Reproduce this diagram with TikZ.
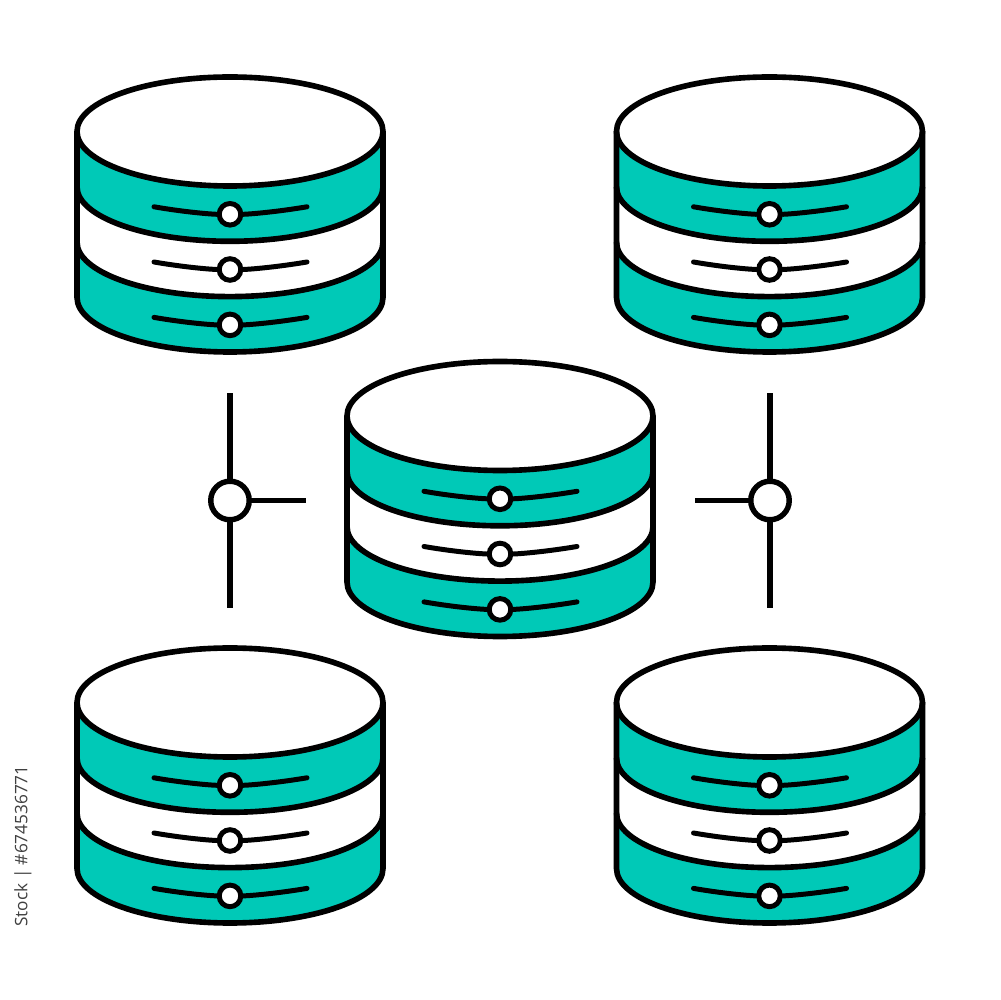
\documentclass[tikz,border=0pt]{standalone}
\usepackage{fontspec}
\setmainfont{Open Sans}
\definecolor{tealfill}{HTML}{00C9B7}
\tikzset{
  outline/.style={draw=black,line width=1.6pt,line join=round},
  slideline/.style={draw=black,line width=1.42pt,line cap=round},
  knob/.style={circle,draw=black,fill=white,line width=1.42pt,inner sep=0pt,minimum size=2.16mm},
  junction/.style={circle,draw=black,fill=white,line width=1.55pt,inner sep=0pt,minimum size=3.85mm},
  wire/.style={draw=black,line width=1.6pt},
  dbcyl/.pic={
    \fill[white] (0,0) ellipse[x radius=153,y radius=54.5];
    \fill[white] (-153,0) -- (-153,-166) -- (153,-166) -- (153,0) -- cycle;
    \fill[white] (-153,-166) arc[start angle=180,end angle=360,x radius=153,y radius=54.5] -- cycle;
    \fill[tealfill] (-153,0) arc[start angle=180,end angle=360,x radius=153,y radius=54.5]
       -- (153,-55.3) arc[start angle=360,end angle=180,x radius=153,y radius=54.5] -- cycle;
    \fill[tealfill] (-153,-110.6) arc[start angle=180,end angle=360,x radius=153,y radius=54.5]
       -- (153,-166) arc[start angle=360,end angle=180,x radius=153,y radius=54.5] -- cycle;
    \draw[outline] (0,0) ellipse[x radius=153,y radius=54.5];
    \draw[outline] (-153,-55.3) arc[start angle=180,end angle=360,x radius=153,y radius=54.5];
    \draw[outline] (-153,-110.6) arc[start angle=180,end angle=360,x radius=153,y radius=54.5];
    \draw[outline] (-153,0) -- (-153,-166) arc[start angle=180,end angle=360,x radius=153,y radius=54.5] -- (153,0);
    \foreach \r/\yy in {a/-82.8,b/-138,c/-193.4}{
      \node[knob] (k\r) at (0,\yy) {};
      \coordinate (l\r) at (-76,\yy+7.5);
      \coordinate (r\r) at (77,\yy+7.5);
      \draw[slideline] (l\r) .. controls (-50,\yy+3) and (-25,\yy+0.5) .. (k\r.west);
      \draw[slideline] (r\r) .. controls (50,\yy+3) and (25,\yy+0.5) .. (k\r.east);
    }
  }
}
\begin{document}
\begin{tikzpicture}[x=0.1mm,y=0.1mm]
\useasboundingbox (0,0) rectangle (1000,1000);
\fill[white] (0,0) rectangle (1000,1000);
\pic (tl) at (230,868.5) {dbcyl};
\pic (tr) at (769.5,868.5) {dbcyl};
\pic (mid) at (500,584) {dbcyl};
\pic (bl) at (230,297.5) {dbcyl};
\pic (br) at (769.5,297.5) {dbcyl};
\node[junction] (j1) at (230,499.5) {};
\node[junction] (j2) at (770,499.5) {};
\coordinate (j1t) at (230,607);
\coordinate (j1b) at (230,391.5);
\coordinate (j1r) at (305.5,499.5);
\coordinate (j2t) at (770,607);
\coordinate (j2b) at (770,391.5);
\coordinate (j2l) at (694.5,499.5);
\draw[wire] (j1) -- (j1t);
\draw[wire] (j1) -- (j1b);
\draw[wire] (j1) -- (j1r);
\draw[wire] (j2) -- (j2t);
\draw[wire] (j2) -- (j2b);
\draw[wire] (j2) -- (j2l);
\node[rotate=90,text=black!75,font=\fontsize{1.72mm}{2mm}\selectfont,inner sep=0pt] (stock) at (23,154) {Stock | \#674536771};
\end{tikzpicture}
\end{document}
